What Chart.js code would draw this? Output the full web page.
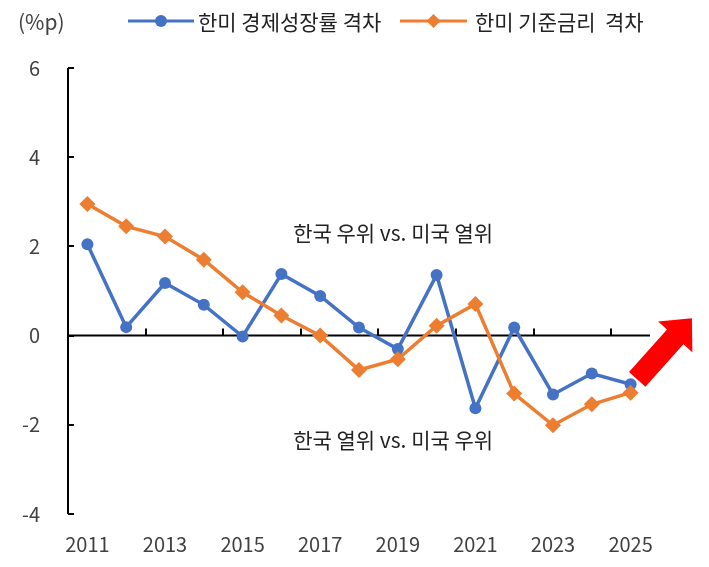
<!DOCTYPE html>
<html>
<head>
<meta charset="utf-8">
<script src="https://cdn.jsdelivr.net/npm/chart.js@4/dist/chart.umd.min.js"></script>
<style>
  html, body { margin: 0; padding: 0; background: #fff; }
  #wrap { width: 709px; height: 567px; }
</style>
</head>
<body>
<div id="wrap"><canvas id="gapChart" width="709" height="567"></canvas></div>
<script>
// data
const years = ['2011', '2012', '2013', '2014', '2015', '2016', '2017', '2018',
  '2019', '2020', '2021', '2022', '2023', '2024', '2025'];
const gdpGap = [2.05, 0.19, 1.18, 0.69, -0.02, 1.38, 0.89, 0.18, -0.30, 1.36,
  -1.63, 0.18, -1.32, -0.85, -1.09];
const rateGap = [2.95, 2.45, 2.22, 1.70, 0.97, 0.45, 0.00, -0.77, -0.53, 0.22,
  0.71, -1.30, -2.01, -1.54, -1.28];
const yTicks = [-4, -2, 0, 2, 4, 6];
const seriesNames = ['한미 경제성장률 격차', '한미 기준금리  격차'];
const unitLabel = '(%p)';
const notes = ['한국 우위 vs. 미국 열위', '한국 열위 vs. 미국 우위'];

const FONT = '"Noto Sans CJK KR", "Noto Sans", sans-serif';
const BLUE = '#4472C4';
const ORANGE = '#ED7D31';

// axis lines, zero line and inward tick marks (drawn under the series)
const framePlugin = {
  id: 'frame',
  beforeDatasetsDraw(chart) {
    const { ctx, chartArea: a, scales: { x, y } } = chart;
    const y0 = y.getPixelForValue(0);
    const step = (x.right - x.left) / years.length;
    ctx.save();
    ctx.strokeStyle = '#000';
    ctx.lineWidth = 2;
    ctx.beginPath();
    ctx.moveTo(a.left, a.top);
    ctx.lineTo(a.left, a.bottom);
    ctx.moveTo(a.left, y0);
    ctx.lineTo(a.right, y0);
    yTicks.forEach((v) => {
      const py = Math.round(y.getPixelForValue(v));
      ctx.moveTo(a.left, py);
      ctx.lineTo(a.left + 6, py);
    });
    for (let k = 2; k < years.length; k += 2) {
      const px = Math.round(a.left + k * step);
      ctx.moveTo(px, y0);
      ctx.lineTo(px, y0 - 7);
    }
    ctx.stroke();
    ctx.restore();
  },
  afterDatasetsDraw(chart) {
    const { ctx, scales: { x, y } } = chart;
    ctx.save();

    // notes
    ctx.fillStyle = '#222';
    ctx.font = '21px ' + FONT;
    ctx.textAlign = 'center';
    ctx.textBaseline = 'middle';
    ctx.fillText(notes[0], x.getPixelForValue(7.88), y.getPixelForValue(2.3));
    ctx.fillText(notes[1], x.getPixelForValue(7.88), y.getPixelForValue(-2.35));

    // red arrow
    const tx = x.getPixelForValue(14.17), ty = y.getPixelForValue(-0.98);
    const hx = x.getPixelForValue(15.58), hy = y.getPixelForValue(0.39);
    const len = Math.hypot(hx - tx, hy - ty);
    const ux = (hx - tx) / len, uy = (hy - ty) / len;
    const nx = -uy, ny = ux;
    const sw = 11, hw = 23, hl = 25;
    const bx = hx - ux * hl, by = hy - uy * hl;
    ctx.fillStyle = '#FF0000';
    ctx.beginPath();
    ctx.moveTo(tx + nx * sw, ty + ny * sw);
    ctx.lineTo(bx + nx * sw, by + ny * sw);
    ctx.lineTo(bx + nx * hw, by + ny * hw);
    ctx.lineTo(hx, hy);
    ctx.lineTo(bx - nx * hw, by - ny * hw);
    ctx.lineTo(bx - nx * sw, by - ny * sw);
    ctx.lineTo(tx - nx * sw, ty - ny * sw);
    ctx.closePath();
    ctx.fill();
    ctx.restore();
  },
  afterDraw(chart) {
    const { ctx } = chart;
    ctx.save();
    ctx.font = '21px ' + FONT;
    ctx.fillStyle = '#404040';
    ctx.textBaseline = 'middle';
    ctx.textAlign = 'left';
    ctx.fillText(unitLabel, 18, 22);

    // legend: line + marker + label
    const items = [
      { x0: 128, x1: 194, tx: 198 },
      { x0: 400, x1: 467, tx: 475 },
    ];
    chart.data.datasets.forEach((ds, i) => {
      const it = items[i];
      const ly = 21;
      ctx.strokeStyle = ds.borderColor;
      ctx.lineWidth = 3;
      ctx.beginPath();
      ctx.moveTo(it.x0, ly);
      ctx.lineTo(it.x1, ly);
      ctx.stroke();
      const cx = (it.x0 + it.x1) / 2;
      ctx.fillStyle = ds.borderColor;
      ctx.beginPath();
      if (ds.pointStyle === 'rectRot') {
        ctx.moveTo(cx - 7, ly);
        ctx.lineTo(cx, ly - 7);
        ctx.lineTo(cx + 7, ly);
        ctx.lineTo(cx, ly + 7);
        ctx.closePath();
      } else {
        ctx.arc(cx, ly, 6, 0, Math.PI * 2);
      }
      ctx.fill();
      ctx.fillStyle = '#222';
      ctx.fillText(ds.label, it.tx, 22);
    });
    ctx.restore();
  },
};

new Chart(document.getElementById('gapChart'), {
  type: 'line',
  data: {
    labels: years,
    datasets: [
      {
        label: seriesNames[0],
        data: gdpGap,
        borderColor: BLUE,
        backgroundColor: BLUE,
        borderWidth: 3.5,
        pointStyle: 'circle',
        pointRadius: 6,
        pointBorderWidth: 0,
        tension: 0,
        order: 1,
      },
      {
        label: seriesNames[1],
        data: rateGap,
        borderColor: ORANGE,
        backgroundColor: ORANGE,
        borderWidth: 3.5,
        pointStyle: 'rectRot',
        pointRadius: 8,
        pointBorderWidth: 0,
        tension: 0,
        order: 0,
      },
    ],
  },
  options: {
    responsive: false,
    animation: false,
    layout: { padding: { top: 68, right: 59, left: 0, bottom: 0 } },
    plugins: {
      legend: { display: false },
      tooltip: { enabled: false },
    },
    scales: {
      x: {
        offset: true,
        grid: { display: false, drawTicks: false },
        border: { display: false },
        afterFit: (s) => { s.height = 53; },
        ticks: {
          autoSkip: false,
          maxRotation: 0,
          padding: 18,
          color: '#404040',
          font: { family: FONT, size: 20 },
          callback: (v, i) => (i % 2 === 0 ? years[i] : ''),
        },
      },
      y: {
        min: -4,
        max: 6,
        grid: { display: false, drawTicks: false },
        border: { display: false },
        afterFit: (s) => { s.width = 68; },
        afterBuildTicks: (s) => { s.ticks = yTicks.map((v) => ({ value: v })); },
        ticks: {
          padding: 28,
          color: '#404040',
          font: { family: FONT, size: 20 },
        },
      },
    },
  },
  plugins: [framePlugin],
});
</script>
</body>
</html>
